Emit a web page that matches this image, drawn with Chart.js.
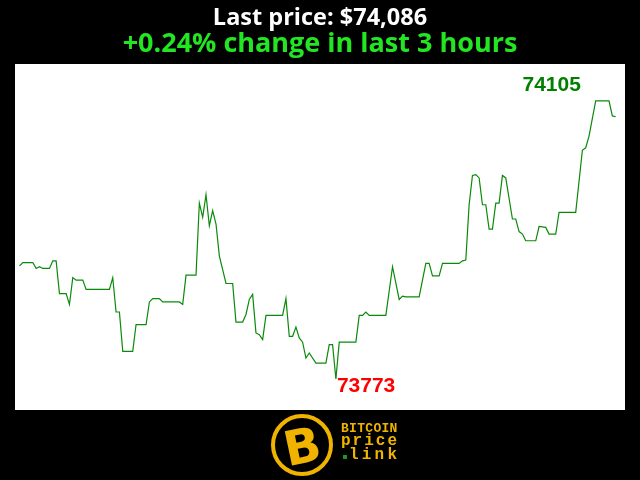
<!DOCTYPE html>
<html>
<head>
<meta charset="utf-8">
<script src="https://cdn.jsdelivr.net/npm/chart.js@4/dist/chart.umd.min.js"></script>
<style>
  html, body { margin: 0; padding: 0; background: #000; }
  #wrap { position: relative; width: 640px; height: 480px; background: #000; overflow: hidden; }
  #c { position: absolute; left: 0; top: 0; }
  #logo-ring { position: absolute; left: 271px; top: 414px; width: 54px; height: 54px; border: 4px solid #f0b400; border-radius: 50%; background: #000; }
  #logo-b { position: absolute; left: 0; top: 0; width: 54px; height: 54px; line-height: 54px; text-align: center; font: bold 48px "DejaVu Sans", sans-serif; color: #f0b400; transform: rotate(-12deg); }
  .lt { position: absolute; font-family: "Liberation Mono", monospace; font-weight: bold; color: #f0b400; white-space: nowrap; }
  #t1 { left: 341px; top: 421px; font-size: 13px; letter-spacing: 0.3px; }
  #t2 { left: 341px; top: 432px; font-size: 16px; letter-spacing: 2px; }
  #t3 { left: 349px; top: 446px; font-size: 16px; letter-spacing: 3.2px; }
  #dot { position: absolute; left: 343px; top: 455px; width: 4px; height: 4px; background: #1a9a1a; }
</style>
</head>
<body>
<div id="wrap">
  <canvas id="c" width="640" height="480"></canvas>
  <div id="logo-ring"><div id="logo-b">B</div></div>
  <div class="lt" id="t1">BITCOIN</div>
  <div class="lt" id="t2">price</div>
  <div id="dot"></div>
  <div class="lt" id="t3">link</div>
</div>
<script>
// minute index within the last 3 hours (vertices of the price line)
const minutes = [
  0, 1, 4, 5, 6, 7, 9, 10, 11, 12,
  14, 15, 16, 17, 19, 20, 27, 28, 29, 30,
  31, 34, 35, 38, 39, 40, 42, 43, 48, 49,
  50, 53, 54, 55, 56, 57, 58, 59, 60, 62,
  64, 65, 67, 68, 69, 70, 71, 72, 73, 74,
  79, 80, 81, 82, 83, 84, 85, 86, 87, 89,
  92, 93, 94, 95, 96, 101, 102, 103, 104, 105,
  110, 112, 114, 115, 116, 120, 122, 123, 124, 126,
  127, 132, 133, 134, 135, 136, 137, 138, 139, 140,
  141, 142, 143, 144, 145, 146, 148, 149, 150, 151,
  152, 155, 156, 158, 159, 161, 162, 167, 169, 170,
  171, 173, 177, 178, 179
];
// BTC price (USD)
const prices = [
  73908, 73912, 73912, 73905, 73907, 73905, 73905, 73914, 73914, 73875,
  73875, 73862, 73894, 73891, 73891, 73880, 73880, 73894, 73853, 73853,
  73806, 73806, 73838, 73838, 73865, 73869, 73869, 73865, 73865, 73862,
  73897, 73897, 73983, 73966, 73993, 73956, 73974, 73958, 73920, 73887,
  73887, 73841, 73841, 73850, 73868, 73874, 73828, 73826, 73820, 73849,
  73849, 73869, 73824, 73824, 73835, 73822, 73817, 73798, 73804, 73792,
  73792, 73814, 73814, 73773, 73817, 73817, 73849, 73849, 73853, 73849,
  73849, 73907, 73868, 73872, 73871, 73871, 73911, 73911, 73896, 73896,
  73911, 73911, 73914, 73915, 73981, 74016, 74017, 74013, 73981, 73981,
  73952, 73952, 73983, 73983, 74016, 74013, 73964, 73964, 73949, 73946,
  73938, 73938, 73955, 73954, 73946, 73946, 73972, 73972, 74046, 74049,
  74063, 74105, 74105, 74087, 74086
];
const titleText = 'Last price: $74,086';
const subtitleText = '+0.24% change in last 3 hours';

const points = minutes.map((m, i) => ({ x: m, y: prices[i] }));

const bgPlugin = {
  id: 'bg',
  beforeDraw(chart) {
    const { ctx, chartArea } = chart;
    ctx.save();
    ctx.fillStyle = '#000';
    ctx.fillRect(0, 0, chart.width, chart.height);
    ctx.fillStyle = '#fff';
    ctx.fillRect(chartArea.left, chartArea.top, chartArea.right - chartArea.left, chartArea.bottom - chartArea.top);
    ctx.restore();
  }
};

const extremaPlugin = {
  id: 'extrema',
  afterDatasetsDraw(chart) {
    const { ctx, scales } = chart;
    let maxI = 0, minI = 0;
    prices.forEach((p, i) => { if (p > prices[maxI]) maxI = i; if (p < prices[minI]) minI = i; });
    ctx.save();
    ctx.font = 'bold 21px "Liberation Sans", Arial, sans-serif';
    ctx.textBaseline = 'alphabetic';
    ctx.fillStyle = '#008000';
    ctx.textAlign = 'center';
    ctx.fillText(String(prices[maxI]), scales.x.getPixelForValue(minutes[maxI]) - 44, scales.y.getPixelForValue(prices[maxI]) - 10);
    ctx.fillStyle = '#ff0000';
    ctx.textAlign = 'left';
    ctx.fillText(String(prices[minI]), scales.x.getPixelForValue(minutes[minI]) + 1, scales.y.getPixelForValue(prices[minI]) + 13);
    ctx.restore();
  }
};

new Chart(document.getElementById('c'), {
  type: 'line',
  data: {
    datasets: [{
      data: points,
      borderColor: '#0a8a0a',
      borderWidth: 1.2,
      pointRadius: 0,
      tension: 0,
      fill: false
    }]
  },
  options: {
    responsive: false,
    animation: false,
    layout: { padding: { left: 15, right: 15, top: 0, bottom: 70 } },
    scales: {
      x: { type: 'linear', display: false, min: -1.35, max: 181.8 },
      y: { type: 'linear', display: false, min: 73736, max: 74149 }
    },
    plugins: {
      legend: { display: false },
      tooltip: { enabled: false },
      title: {
        display: true,
        text: titleText,
        color: '#ffffff',
        font: { family: '"Open Sans", sans-serif', size: 23.5, weight: 'bold', lineHeight: 1.0 },
        padding: { top: 7, bottom: 0 }
      },
      subtitle: {
        display: true,
        text: subtitleText,
        color: '#22e622',
        font: { family: '"Open Sans", sans-serif', size: 27, weight: 'bold', lineHeight: 1.0 },
        padding: { top: 0, bottom: 6.5 }
      }
    }
  },
  plugins: [bgPlugin, extremaPlugin]
});
</script>
</body>
</html>
